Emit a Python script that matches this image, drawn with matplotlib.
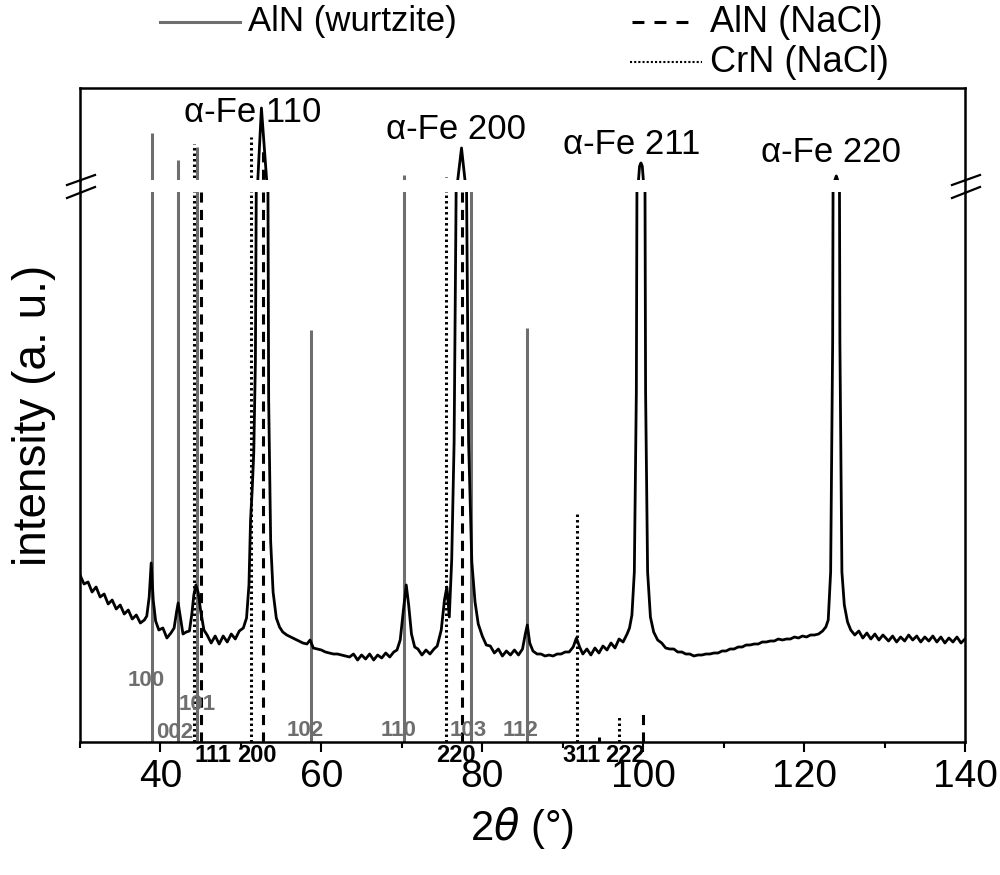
import matplotlib
matplotlib.use("Agg")
import matplotlib.pyplot as plt
from matplotlib.lines import Line2D
from matplotlib.ticker import MultipleLocator

plt.rcParams['font.family'] = ['Liberation Sans', 'DejaVu Sans']
plt.rcParams['mathtext.fontset'] = 'dejavusans'

# measured pattern (2theta, intensity in arbitrary units)
two_theta = [30.0, 30.5, 31.0, 31.5, 32.0, 32.5, 33.0, 33.5, 34.0, 34.5, 35.0, 35.5, 36.0, 36.5,
             37.0, 37.5, 38.0, 38.3, 38.6, 38.85, 39.1, 39.4, 39.8, 40.3, 40.8, 41.3, 41.7, 42.0,
             42.2, 42.45, 42.8, 43.2, 43.6, 43.9, 44.15, 44.4, 44.7, 45.0, 45.4, 45.8, 46.3, 46.8,
             47.3, 47.8, 48.3, 48.8, 49.3, 49.8, 50.3, 50.7, 51.0, 51.2, 51.4, 51.6, 51.8, 52.0,
             52.1, 52.55, 53.2, 53.3, 53.45, 53.7, 54.0, 54.4, 54.8, 55.2, 55.7, 56.2, 56.7, 57.2,
             57.7, 58.2, 58.6, 59.0, 59.5, 60.0, 60.5, 61.0, 61.5, 62.0, 62.5, 63.0, 63.5, 64.0,
             64.5, 65.0, 65.5, 66.0, 66.5, 67.0, 67.5, 68.0, 68.5, 69.0, 69.4, 69.8, 70.2, 70.55,
             70.85, 71.2, 71.6, 72.0, 72.5, 73.0, 73.5, 74.0, 74.4, 74.9, 75.3, 75.6, 75.9, 76.2,
             76.5, 76.8, 76.95, 77.42, 77.85, 78.0, 78.3, 78.7, 79.1, 79.5, 80.0, 80.5, 81.0, 81.5,
             82.0, 82.5, 83.0, 83.5, 84.0, 84.5, 85.0, 85.35, 85.6, 85.9, 86.3, 86.8, 87.3, 87.8,
             88.3, 88.8, 89.3, 89.8, 90.3, 90.8, 91.3, 91.7, 92.1, 92.5, 93.0, 93.5, 94.0, 94.5,
             95.0, 95.5, 96.0, 96.5, 97.0, 97.5, 98.0, 98.3, 98.6, 98.9, 99.15, 99.35, 99.42, 99.55,
             99.72, 99.89, 100.02, 100.1, 100.3, 100.55, 100.9, 101.3, 101.8, 102.3, 102.8, 103.3,
             103.8, 104.3, 104.8, 105.3, 105.8, 106.3, 106.8, 107.3, 107.8, 108.3, 108.8, 109.3,
             109.8, 110.3, 110.8, 111.3, 111.8, 112.3, 112.8, 113.3, 113.8, 114.3, 114.8, 115.3,
             115.8, 116.3, 116.8, 117.3, 117.8, 118.3, 118.8, 119.3, 119.8, 120.3, 120.8, 121.3,
             121.8, 122.3, 122.7, 123.0, 123.3, 123.55, 123.75, 123.83, 124.0, 124.17, 124.25, 124.45,
             124.7, 125.0, 125.4, 125.8, 126.3, 126.8, 127.3, 127.8, 128.3, 128.8, 129.3, 129.8,
             130.5, 131.0, 131.5, 132.0, 132.5, 133.0, 133.5, 134.0, 134.5, 135.0, 135.5, 136.0,
             136.5, 137.0, 137.5, 138.0, 138.5, 139.0, 139.5, 140.0]
intensity = [167, 158, 160, 150, 155, 145, 148, 138, 142, 133, 137, 128, 132, 123,
             127, 119, 122, 126, 145, 179, 142, 121, 112, 114, 104, 109, 114, 130,
             139, 126, 108, 110, 111, 128, 147, 157, 149, 131, 112, 107, 99, 106,
             98, 106, 100, 108, 103, 111, 114, 124, 157, 222, 252, 290, 380, 700,
             1500, 3065, 1500, 700, 342, 200, 150, 124, 115, 110, 107, 105, 103, 101,
             99, 98, 102, 94, 93, 92, 90, 89, 88, 88, 87, 86, 85, 88,
             82, 87, 83, 88, 82, 87, 84, 89, 85, 90, 92, 102, 132, 157,
             137, 108, 95, 93, 87, 92, 88, 93, 96, 112, 142, 155, 125, 182,
             300, 600, 1500, 2196, 1500, 600, 300, 180, 140, 118, 106, 97, 96, 89,
             93, 86, 91, 87, 92, 87, 93, 108, 117, 99, 91, 88, 88, 86,
             87, 86, 88, 88, 90, 90, 95, 104, 95, 88, 93, 87, 94, 89,
             96, 92, 99, 94, 103, 100, 108, 114, 127, 170, 350, 900, 1500, 1800,
             1870, 1800, 1500, 900, 350, 170, 125, 110, 102, 99, 94, 93,
             93, 90, 90, 88, 88, 86, 87, 87, 88, 88, 89, 89,
             91, 91, 93, 93, 95, 95, 97, 97, 98, 98, 100, 100,
             101, 101, 103, 102, 103, 103, 105, 104, 106, 105, 107, 107,
             108, 111, 115, 122, 170, 400, 1000, 1500, 1587, 1500, 1000, 400,
             170, 137, 120, 112, 107, 111, 104, 109, 103, 108, 102, 107,
             101, 106, 100, 105, 101, 107, 102, 106, 100, 105, 101, 106,
             100, 105, 99, 104, 100, 105, 99, 103]

# reference patterns
wurtzite_pos = [38.9, 42.2, 44.5, 58.65, 70.3, 78.55, 85.55]
wurtzite_int = [2522, 1935, 2217, 412, 1609, 560, 414]
wurtzite_hkl = ['100', '002', '101', '102', '110', '103', '112']
wurtzite_lab_x = [38.2, 41.8, 44.55, 58.0, 69.65, 78.2, 84.7]
wurtzite_lab_y = [62, 9, 37, 12, 11, 11, 11]

aln_pos = [45.1, 52.7, 77.43, 94.5, 100.0]
aln_int = [560, 2152, 560, 5, 32]

crn_pos = [44.2, 51.2, 75.45, 91.8, 97.0]
crn_int = [2283, 2435, 1565, 229, 25]

nacl_hkl = ['111', '200', '220', '311', '222']
nacl_lab_x = [46.5, 52.0, 76.7, 92.4, 97.7]

fe_labels = ['α-Fe 110', 'α-Fe 200', 'α-Fe 211', 'α-Fe 220']
fe_lab_x = [51.5, 76.7, 98.6, 123.3]
fe_lab_y = [2957, 2587, 2261, 2087]

W, H = 1000, 875
fig = plt.figure(figsize=(10, 8.75), dpi=100)


def fx(px):
    return px / W


def fy(py):
    return 1 - py / H


ax_top = fig.add_axes([fx(80), fy(180), fx(965) - fx(80), fy(88) - fy(180)])
ax_bot = fig.add_axes([fx(80), fy(742), fx(965) - fx(80), fy(192) - fy(742)])

gray = '#6e6e6e'
dash_style = (0, (3.3, 2.4))
dot_style = (0, (0.8, 1.0))

for ax in (ax_top, ax_bot):
    ax.vlines(wurtzite_pos, 0, wurtzite_int, colors=gray, lw=2.2, zorder=2)
    ax.vlines(aln_pos, 0, aln_int, colors='black', lw=2.2, linestyles=[dash_style], zorder=2)
    ax.vlines(crn_pos, 0, crn_int, colors='black', lw=2.2, linestyles=[dot_style], zorder=2)
    ax.plot(two_theta, intensity, color='black', lw=2.0, zorder=3)
    ax.set_xlim(30, 140)
    ax.set_yticks([])
    for s in ax.spines.values():
        s.set_linewidth(1.8)

ax_top.set_ylim(1500, 3500)
ax_bot.set_ylim(0, 550)

ax_top.spines['bottom'].set_visible(False)
ax_top.set_xticks([])
ax_bot.spines['top'].set_visible(False)

ax_bot.xaxis.set_major_locator(MultipleLocator(20))
ax_bot.xaxis.set_minor_locator(MultipleLocator(10))
ax_bot.tick_params(axis='x', which='major', direction='out', length=7.5, width=1.5,
                   labelsize=28, pad=5)
ax_bot.tick_params(axis='x', which='minor', direction='out', length=4.5, width=1.5)

for lab, x, y in zip(fe_labels, fe_lab_x, fe_lab_y):
    ax_top.text(x, y, lab, fontsize=25, ha='center', va='center', clip_on=False)

for lab, x, y in zip(wurtzite_hkl, wurtzite_lab_x, wurtzite_lab_y):
    ax_bot.text(x, y, lab, fontsize=16, fontweight='bold', color=gray,
                ha='center', va='center', zorder=4)

for lab, x in zip(nacl_hkl, nacl_lab_x):
    ax_bot.text(x, -13, lab, fontsize=17, fontweight='bold', color='black',
                ha='center', va='center', clip_on=False)

# frame across the break and the break marks
for px in (80, 965):
    fig.add_artist(Line2D([fx(px), fx(px)], [fy(180), fy(192)], color='black', lw=1.8))
    fig.add_artist(Line2D([fx(px - 13), fx(px + 15)], [fy(185), fy(175)], color='black', lw=1.6))
    fig.add_artist(Line2D([fx(px - 13), fx(px + 15)], [fy(198), fy(187)], color='black', lw=1.6))

fig.text(fx(522), fy(828), r'2$\theta$ (°)', fontsize=30, ha='center', va='center')
fig.text(fx(34), fy(415), 'intensity (a. u.)', fontsize=33, rotation=90,
         ha='center', va='center')

# legend
fig.add_artist(Line2D([fx(160), fx(240)], [fy(22), fy(22)], color=gray, lw=2.2))
fig.text(fx(248), fy(22), 'AlN (wurtzite)', fontsize=25, ha='left', va='center')
fig.add_artist(Line2D([fx(632), fx(694)], [fy(22), fy(22)], color='black', lw=2.2,
                      linestyle=(0, (3.9, 3.3))))
fig.text(fx(710), fy(22), 'AlN (NaCl)', fontsize=26, ha='left', va='center')
fig.add_artist(Line2D([fx(630), fx(702)], [fy(62), fy(62)], color='black', lw=1.5,
                      linestyle=(0, (1, 1))))
fig.text(fx(710), fy(62), 'CrN (NaCl)', fontsize=26, ha='left', va='center')

fig.savefig('out.png', dpi=100)
